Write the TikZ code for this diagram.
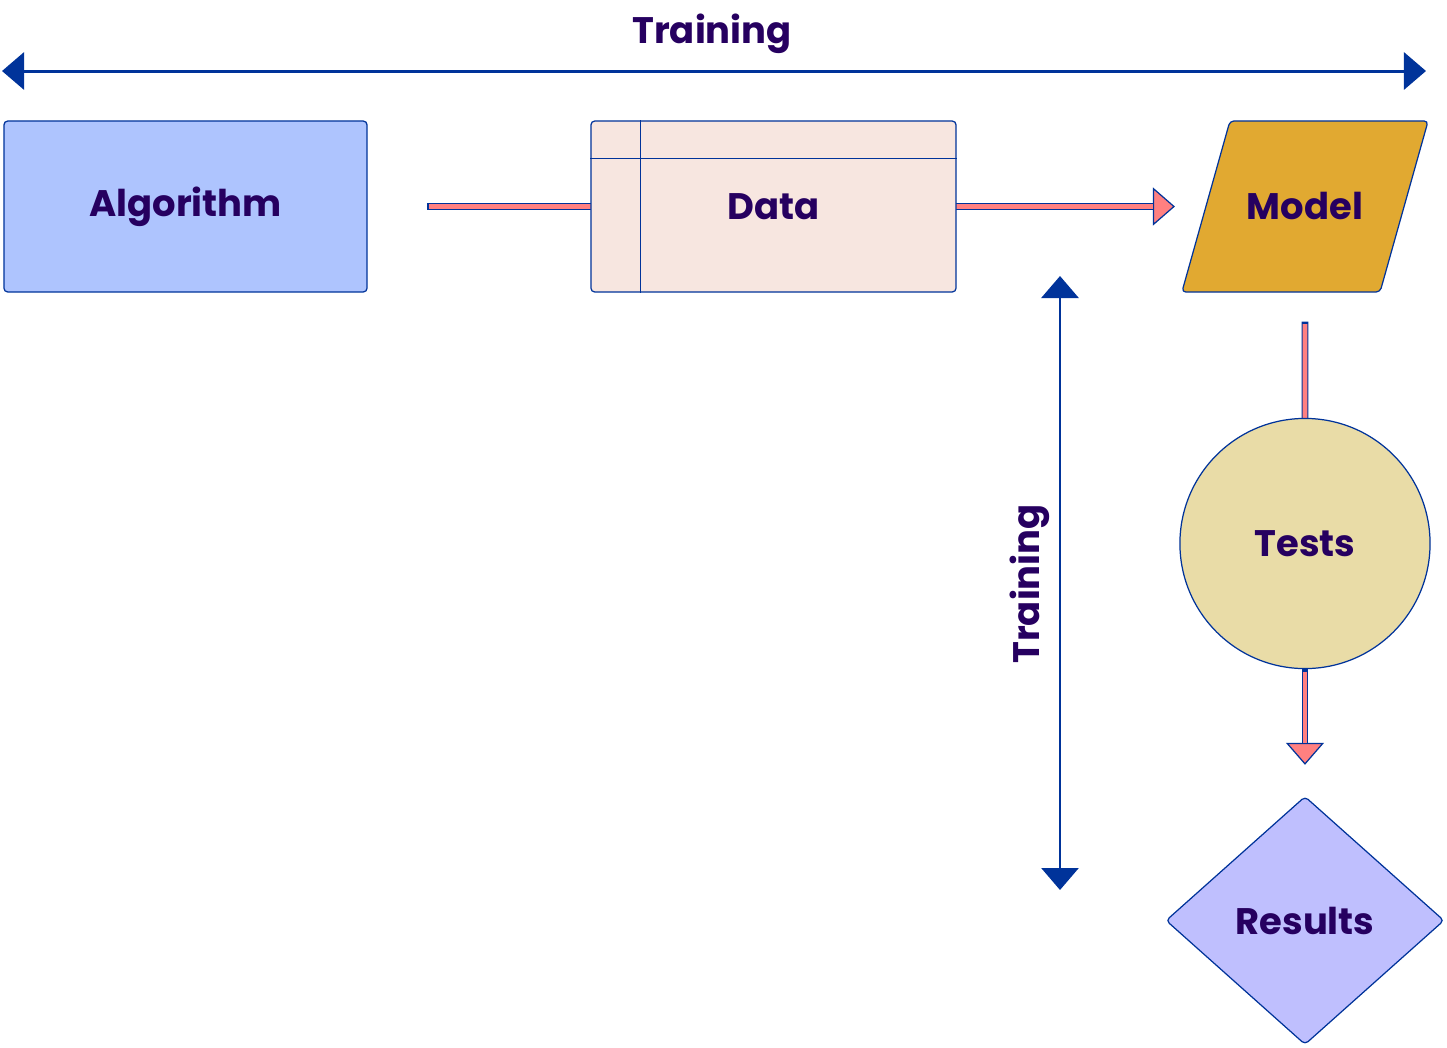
\documentclass[tikz,border=0pt]{standalone}
\usepackage{fontspec}
\setmainfont{Poppins}
\usetikzlibrary{shapes.geometric,arrows.meta,backgrounds}
\definecolor{edgeblue}{HTML}{00339A}
\definecolor{labelink}{HTML}{260060}
\definecolor{flowpink}{HTML}{FF8080}
\definecolor{algofill}{HTML}{AEC4FE}
\definecolor{datafill}{HTML}{F7E6E0}
\definecolor{modelfill}{HTML}{E1A931}
\definecolor{testfill}{HTML}{E9DCA7}
\definecolor{resultfill}{HTML}{BFBFFE}
\tikzset{
  box/.style={draw=edgeblue, line width=0.35pt, rounded corners=0.04cm, text=labelink,
    font=\fontsize{10.5}{12}\selectfont\bfseries, inner sep=0pt},
  spanline/.style={edgeblue, line width=0.85pt,
    {Triangle[length=0.22cm,width=0.37cm]}-{Triangle[length=0.22cm,width=0.37cm]}},
  spanlabel/.style={text=labelink, font=\fontsize{10.5}{12}\selectfont\bfseries, inner sep=0pt},
  shaftout/.style={edgeblue, line width=0.068cm},
  shaftin/.style={flowpink, line width=0.046cm},
  flowtip/.style={edgeblue, line width=0.35pt, -{Triangle[length=0.22cm,width=0.38cm,fill=flowpink]}},
}
\newcommand{\flowshaft}[3]{%
  \draw[shaftout, shorten >=#3] (#1) -- (#2);
  \draw[shaftin, shorten <=0.025cm, shorten >=#3] (#1) -- (#2);}
\begin{document}
\begin{tikzpicture}[x=0.01cm, y=-0.01cm]
  \useasboundingbox (0,0) rectangle (1447,1047);
  \node[box, fill=algofill, minimum width=3.63cm, minimum height=1.71cm] (algo) at (185.5,206.5) {Algorithm};
  \node[box, fill=datafill, minimum width=3.65cm, minimum height=1.71cm] (data) at (773.5,206.5) {Data};
  \draw[edgeblue, line width=0.35pt] ([xshift=0.5cm]data.north west) -- ([xshift=0.5cm]data.south west);
  \draw[edgeblue, line width=0.35pt] ([yshift=-0.38cm]data.north west) -- ([yshift=-0.38cm]data.north east);
  \node[box, fill=modelfill, trapezium, trapezium left angle=74.3, trapezium right angle=105.7,
    text width=1.5cm, align=center, text height=0.985cm, text depth=0.725cm] (model) at (1305,206.5) {Model};
  \node[box, fill=testfill, circle, minimum size=2.5cm] (tests) at (1305,543.5) {Tests};
  \node[box, fill=resultfill, diamond, aspect=1.1, minimum width=2.78cm, minimum height=2.48cm] (results) at (1305,920.5) {Results};

  \coordinate (topleft) at (2,71);
  \coordinate (topright) at (1426,71);
  \coordinate (sidetop) at (1060,276);
  \coordinate (sidebottom) at (1060,890);
  \draw[spanline] (topleft) -- (topright);
  \draw[spanline] (sidetop) -- (sidebottom);
  \node[spanlabel] (toplabel) at (712,34) {Training};
  \node[spanlabel, rotate=90] (sidelabel) at (1030,584) {Training};

  \begin{pgfonlayer}{background}
    \draw[flowtip] ([xshift=0.59cm]algo.east) -- ([xshift=-1.30cm]model.center);
    \flowshaft{[xshift=0.59cm]algo.east}{[xshift=-1.30cm]model.center}{0.22cm}
    \flowshaft{[yshift=-0.29cm]model.south}{tests.north}{0cm}
    \draw[flowtip] (tests.south) -- ([yshift=0.31cm]results.north);
    \flowshaft{tests.south}{[yshift=0.31cm]results.north}{0.22cm}
  \end{pgfonlayer}
\end{tikzpicture}
\end{document}
